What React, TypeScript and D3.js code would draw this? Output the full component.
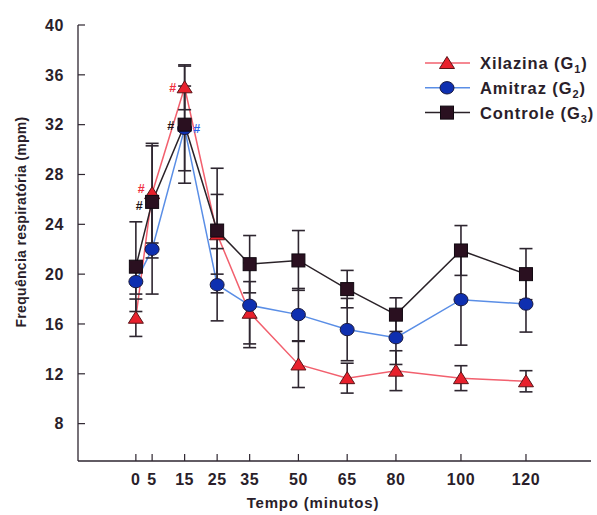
import React from "react";
import * as d3 from "d3";

const times = [0, 5, 15, 25, 35, 50, 65, 80, 100, 120];
const xilazina = [16.5, 26.5, 35.0, 23.2, 16.9, 12.75, 11.65, 12.25, 11.65, 11.4];
const xilazinaSD = [1.5, 4.0, 1.8, 3.2, 2.5, 1.85, 1.2, 1.6, 1.0, 0.85];
const amitraz = [19.4, 22.0, 31.7, 19.15, 17.5, 16.75, 15.55, 14.9, 17.95, 17.6];
const amitrazSD = [1.0, 3.6, 3.4, 2.9, 3.4, 2.1, 2.5, 2.15, 3.65, 2.25];
const controle = [20.6, 25.8, 32.0, 23.5, 20.8, 21.1, 18.8, 16.75, 21.9, 20.0];
const controleSD = [3.6, 4.5, 4.7, 5.0, 2.3, 2.4, 1.5, 1.35, 2.0, 2.05];
const yTicks = [8, 12, 16, 20, 24, 28, 32, 36, 40];
const seriesNames = ["Xilazina", "Amitraz", "Controle"];
const seriesSubs = ["1", "2", "3"];
// significance marks: series index, time
const signifMarks = [
  { s: 0, t: 5 },
  { s: 2, t: 5 },
  { s: 0, t: 15 },
  { s: 2, t: 15 },
  { s: 1, t: 15 },
];

const FONT = "'Liberation Sans', Arial, Helvetica, sans-serif";
const lineColors = ["#f2606e", "#5a8ee6", "#2a2228"];
const fillColors = ["#e8202c", "#0e2fb0", "#2a1020"];
const hashColors = ["#f03040", "#2a64e8", "#1e1418"];
// label offsets (pixels) for each significance mark, same order as signifMarks
const hashOffsets = [
  { dx: -11, dy: 0 },
  { dx: -13, dy: 8.5 },
  { dx: -12, dy: 5 },
  { dx: -14, dy: 5 },
  { dx: 12, dy: 5 },
];
const ink = "#2e2630";

function Marker({ kind, x, y }: { kind: number; x: number; y: number }) {
  if (kind === 0) {
    const p = d3.path();
    p.moveTo(x, y - 6.5);
    p.lineTo(x + 7.5, y + 5.5);
    p.lineTo(x - 7.5, y + 5.5);
    p.closePath();
    return <path d={p.toString()} fill={fillColors[0]} stroke="#5a1418" strokeWidth={1} />;
  }
  if (kind === 1) {
    return <ellipse cx={x} cy={y} rx={7} ry={6.2} fill={fillColors[1]} stroke="#1a1a40" strokeWidth={1} />;
  }
  return <rect x={x - 6.5} y={y - 6.5} width={13} height={13} fill={fillColors[2]} stroke="#100810" strokeWidth={1} />;
}

export default function App() {
  const x = d3.scaleLinear().domain([-17.8, 140]).range([78, 591]);
  const y = d3.scaleLinear().domain([5, 40]).range([461, 25]);
  const data = [xilazina, amitraz, controle];
  const sds = [xilazinaSD, amitrazSD, controleSD];
  const line = d3
    .line<number>()
    .x((_, i) => x(times[i]))
    .y((d) => y(d));

  return (
    <svg
      width={597}
      height={515}
      style={{ position: "absolute", left: 0, top: 0, background: "#ffffff" }}
      fontFamily={FONT}
    >
      {/* axes */}
      <line x1={x(-17.8)} x2={x(-17.8)} y1={y(40)} y2={y(5)} stroke={ink} strokeWidth={1.3} />
      <line x1={x(-17.8)} x2={x(140)} y1={y(5)} y2={y(5)} stroke={ink} strokeWidth={1.3} />
      {yTicks.map((t) => (
        <g key={"y" + t}>
          <line x1={x(-17.8)} x2={x(-17.8) + 7} y1={y(t)} y2={y(t)} stroke={ink} strokeWidth={1.2} />
          <text
            x={64}
            y={y(t)}
            dy="0.36em"
            textAnchor="end"
            fontSize={16}
            fontWeight="bold"
            fill="#2a1e2a"
            letterSpacing={0.6}
          >
            {t}
          </text>
        </g>
      ))}
      {times.map((t) => (
        <g key={"x" + t}>
          <line x1={x(t)} x2={x(t)} y1={y(5)} y2={y(5) - 7} stroke={ink} strokeWidth={1.2} />
          <text
            x={x(t)}
            y={485}
            textAnchor="middle"
            fontSize={16}
            fontWeight="bold"
            fill="#2a1e2a"
            letterSpacing={0.6}
          >
            {t}
          </text>
        </g>
      ))}
      <text x={313} y={508} textAnchor="middle" fontSize={15} fontWeight="bold" fill="#2a1e2a" letterSpacing={0.8}>
        Tempo (minutos)
      </text>
      <text
        transform={`translate(26,222) rotate(-90)`}
        textAnchor="middle"
        fontSize={14}
        fontWeight="bold"
        fill="#2a1e2a"
        letterSpacing={0.3}
      >
        Frequência respiratória (mpm)
      </text>

      {/* series */}
      {data.map((vals, s) => (
        <g key={"s" + s}>
          <path d={line(vals) || ""} fill="none" stroke={lineColors[s]} strokeWidth={1.5} />
        </g>
      ))}
      {data.map((vals, s) => (
        <g key={"e" + s}>
          {vals.map((v, i) => {
            const cx = x(times[i]);
            const top = y(v + sds[s][i]);
            const bot = y(v - sds[s][i]);
            return (
              <g key={i} stroke={ink} strokeWidth={1.6}>
                <line x1={cx} x2={cx} y1={top} y2={bot} />
                <line x1={cx - 6.5} x2={cx + 6.5} y1={top} y2={top} />
                <line x1={cx - 6.5} x2={cx + 6.5} y1={bot} y2={bot} />
              </g>
            );
          })}
        </g>
      ))}
      {data.map((vals, s) => (
        <g key={"m" + s}>
          {vals.map((v, i) => (
            <Marker key={i} kind={s} x={x(times[i])} y={y(v)} />
          ))}
        </g>
      ))}
      {signifMarks.map((m, k) => {
        const i = times.indexOf(m.t);
        const v = data[m.s][i];
        return (
          <text
            key={"h" + k}
            x={x(m.t) + hashOffsets[k].dx}
            y={y(v) + hashOffsets[k].dy}
            textAnchor="middle"
            fontSize={12.5}
            fontWeight="bold"
            fill={hashColors[m.s]}
          >
            #
          </text>
        );
      })}

      {/* legend */}
      {seriesNames.map((name, s) => {
        const ly = 63 + s * 24.8;
        return (
          <g key={"l" + s}>
            <line x1={425} x2={470} y1={ly} y2={ly} stroke={lineColors[s]} strokeWidth={1.5} />
            <Marker kind={s} x={447} y={ly} />
            <text x={480} y={ly + 6} fontSize={16.5} fontWeight="bold" fill="#2a1e2a" letterSpacing={0.9}>
              {name} (G
              <tspan fontSize={11} dy={4}>
                {seriesSubs[s]}
              </tspan>
              <tspan dy={-4}>)</tspan>
            </text>
          </g>
        );
      })}
    </svg>
  );
}
